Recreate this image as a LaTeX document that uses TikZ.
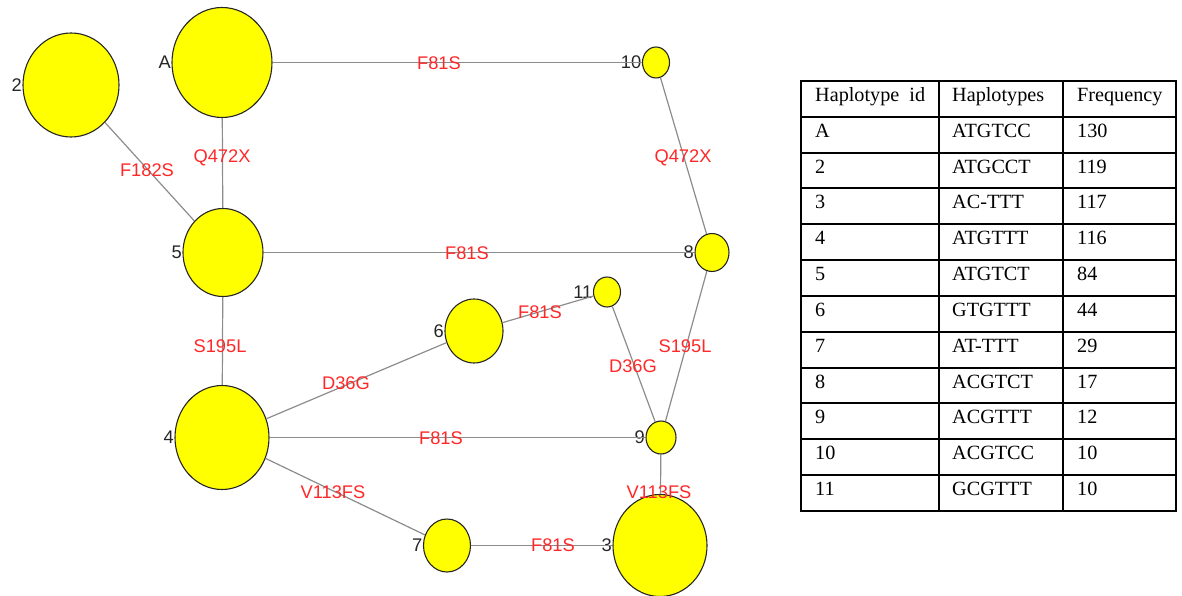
\documentclass[tikz,border=0pt]{standalone}
\usepackage{fontspec}
\setmainfont{Liberation Sans}
\newfontfamily\tabfont{Liberation Serif}
\usetikzlibrary{shapes.geometric}
\definecolor{elabred}{RGB}{255,40,40}
\definecolor{edgegray}{RGB}{140,140,140}
\definecolor{nodeyel}{RGB}{255,255,0}
\tikzset{
  hap/.style={ellipse, draw=black!85, fill=nodeyel, line width=1.1pt, inner sep=0pt},
  conn/.style={draw=edgegray, line width=1.2pt},
  elab/.style={text=elabred, font=\fontsize{18.3}{18}\selectfont, inner sep=0pt},
  nlab/.style={text=black!85, font=\fontsize{18.3}{18}\selectfont, inner sep=0.5pt},
  tline/.style={draw=black, line width=2pt},
  ttext/.style={font=\tabfont\fontsize{20.2}{20}\selectfont, anchor=base west, inner sep=0pt},
}
\begin{document}
\begin{tikzpicture}[x=1pt,y=-1pt]
\useasboundingbox (0,0) rectangle (1182,596);
% haplotype nodes
\node[hap, minimum width=96pt, minimum height=104pt, label={[nlab]left:2}] (n2) at (71,85) {};
\node[hap, minimum width=100pt, minimum height=110pt, label={[nlab]left:A}] (nA) at (222,62.5) {};
\node[hap, minimum width=80pt, minimum height=88pt, label={[nlab]left:5}] (n5) at (223,252.5) {};
\node[hap, minimum width=94pt, minimum height=104pt, label={[nlab]left:4}] (n4) at (222,437.5) {};
\node[hap, minimum width=27pt, minimum height=31pt, label={[nlab]left:10}] (n10) at (656,62.5) {};
\node[hap, minimum width=34pt, minimum height=38pt, label={[nlab]left:8}] (n8) at (712,252.5) {};
\node[hap, minimum width=27pt, minimum height=30pt, label={[nlab]left:11}] (n11) at (607,292) {};
\node[hap, minimum width=58pt, minimum height=64pt, label={[nlab]left:6}] (n6) at (474,331) {};
\node[hap, minimum width=30pt, minimum height=33pt, label={[nlab]left:9}] (n9) at (661,437.5) {};
\node[hap, minimum width=47pt, minimum height=53pt, label={[nlab]left:7}] (n7) at (447,545.5) {};
\node[hap, minimum width=94pt, minimum height=102pt, label={[nlab]left:3}] (n3) at (660,545.5) {};
% connectors
\draw[conn] (nA) -- (n10);
\draw[conn] (nA) -- (n5);
\draw[conn] (n2) -- (n5);
\draw[conn] (n5) -- (n8);
\draw[conn] (n10) -- (n8);
\draw[conn] (n5) -- (n4);
\draw[conn] (n4) -- (n6);
\draw[conn] (n6) -- (n11);
\draw[conn] (n11) -- (n9);
\draw[conn] (n8) -- (n9);
\draw[conn] (n4) -- (n9);
\draw[conn] (n4) -- (n7);
\draw[conn] (n9) -- (n3);
\draw[conn] (n7) -- (n3);
% edge labels
\node[elab] (eA10) at (439,63) {F81S};
\node[elab] (eA5) at (222,158) {Q472X};
\node[elab] (e25) at (147,170) {F182S};
\node[elab] (e58) at (467,253) {F81S};
\node[elab] (e108) at (683,158) {Q472X};
\node[elab] (e54) at (220,346) {S195L};
\node[elab] (e46) at (346,383) {D36G};
\node[elab] (e611) at (540,312) {F81S};
\node[elab] (e119) at (633,366) {D36G};
\node[elab] (e89) at (685,346) {S195L};
\node[elab] (e49) at (441,438) {F81S};
\node[elab] (e47) at (333,492) {V113FS};
\node[elab] (e93) at (659,492) {V113FS};
\node[elab] (e73) at (553,545) {F81S};
% table
\def\rh{35.83}
\draw[tline] (801,81) rectangle (1176,511);
\draw[tline] (939,81) -- (939,511);
\draw[tline] (1063,81) -- (1063,511);
\foreach \i in {1,...,11}{
  \draw[tline] (801,{81+\rh*\i}) -- (1176,{81+\rh*\i});
}
\foreach \a/\b/\c [count=\i from 0] in {
  {Haplotype\ \ id}/Haplotypes/Frequency,
  A/ATGTCC/130, 2/ATGCCT/119, 3/AC-TTT/117, 4/ATGTTT/116, 5/ATGTCT/84,
  6/GTGTTT/44, 7/AT-TTT/29, 8/ACGTCT/17, 9/ACGTTT/12, 10/ACGTCC/10, 11/GCGTTT/10}{
  \node[ttext] (ta\i) at (815,{81+\rh*\i+20.5}) {\a};
  \node[ttext] (tb\i) at (952,{81+\rh*\i+20.5}) {\b};
  \node[ttext] (tc\i) at (1077,{81+\rh*\i+20.5}) {\c};
}
\end{tikzpicture}
\end{document}
